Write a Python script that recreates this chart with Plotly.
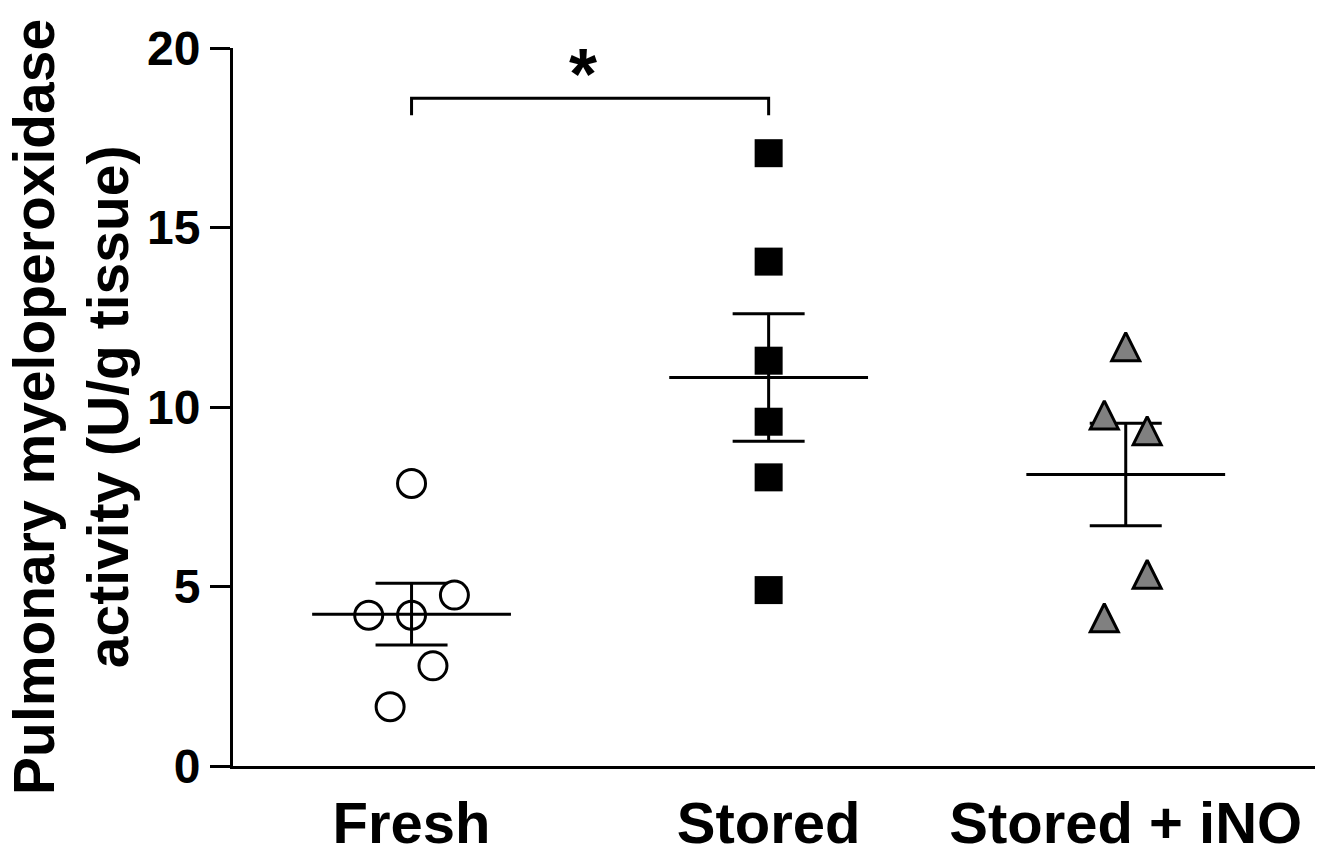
import plotly.graph_objects as go

categories = ["Fresh", "Stored", "Stored + iNO"]

fresh = [7.87, 4.76, 4.20, 4.20, 2.79, 1.65]
stored = [17.07, 14.05, 11.29, 9.59, 8.04, 4.90]
stored_ino = [11.68, 9.78, 9.34, 5.34, 4.13]

means = [4.23, 10.82, 8.12]
sems = [0.86, 1.775, 1.43]

jitter_fresh = [0, 2, -2, 0, 1, -1]
jitter_stored = [0, 0, 0, 0, 0, 0]
jitter_ino = [0, -1, 1, 1, -1]

y_ticks = [0, 5, 10, 15, 20]
y_title = "Pulmonary myeloperoxidase<br>activity (U/g tissue)"
sig_label = "*"

STEP = 0.06
FONT = "Liberation Sans, Arial, Helvetica, sans-serif"

fig = go.Figure()

# mean lines with SEM error bars (drawn first, markers on top)
fig.add_trace(go.Scatter(
    x=list(range(len(categories))), y=means, mode="markers",
    marker=dict(symbol="line-ew", size=142, color="black",
                line=dict(width=3, color="black")),
    error_y=dict(type="data", array=sems, visible=True,
                 thickness=3, width=36, color="black"),
    showlegend=False, hoverinfo="skip",
))

fig.add_trace(go.Scatter(
    x=[0 + j * STEP for j in jitter_fresh], y=fresh, mode="markers",
    marker=dict(symbol="circle-open", size=28, color="black",
                line=dict(width=3, color="black")),
    showlegend=False,
))
fig.add_trace(go.Scatter(
    x=[1 + j * STEP for j in jitter_stored], y=stored, mode="markers",
    marker=dict(symbol="square", size=28, color="black",
                line=dict(width=0)),
    showlegend=False,
))
fig.add_trace(go.Scatter(
    x=[2 + j * STEP for j in jitter_ino], y=stored_ino, mode="markers",
    marker=dict(symbol="arrow-down", angle=180, standoff=14, size=28,
                color="#808080", line=dict(width=3, color="black")),
    showlegend=False,
))

# significance bracket
fig.add_trace(go.Scatter(
    x=[0, 0, 1, 1], y=[18.13, 18.6, 18.6, 18.13], mode="lines",
    line=dict(color="black", width=3), showlegend=False, hoverinfo="skip",
))
fig.add_annotation(
    x=0.48, y=19.5, xref="x", yref="y", text="<b>" + sig_label + "</b>",
    showarrow=False, font=dict(family=FONT, size=72, color="black"),
    yanchor="middle", yshift=-8,
)

fig.add_annotation(
    x=-0.2154, y=0.5, xref="paper", yref="paper", text="<b>" + y_title + "</b>",
    textangle=-90, showarrow=False, xanchor="left", yanchor="middle",
    font=dict(family=FONT, size=57, color="black"),
)

fig.update_layout(
    width=1318, height=843,
    margin=dict(l=225, r=11, t=40, b=85),
    plot_bgcolor="white", paper_bgcolor="white",
    font=dict(family=FONT, color="black"),
    xaxis=dict(
        range=[-0.5, 2.53], tickvals=[0, 1, 2], ticktext=categories,
        showline=True, linewidth=3, linecolor="black",
        ticks="outside", ticklen=4, tickcolor="rgba(0,0,0,0)",
        tickfont=dict(family=FONT, size=58, color="black", weight="bold"),
        showgrid=False, zeroline=False, automargin=False,
    ),
    yaxis=dict(
        range=[0, 20], tickvals=y_ticks,
        showline=True, linewidth=3, linecolor="black",
        ticks="outside", ticklen=20, tickwidth=3, tickcolor="black",
        tickfont=dict(family=FONT, size=48, color="black", weight="bold"),
        showgrid=False, zeroline=False, automargin=False,
    ),
)

fig.write_html("out.html")
